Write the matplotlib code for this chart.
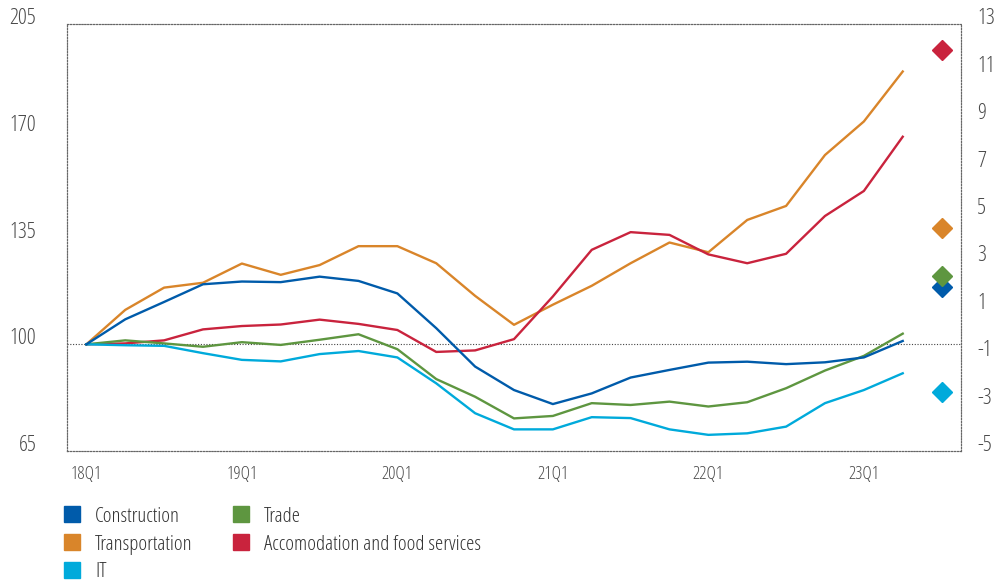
import matplotlib
matplotlib.use("Agg")
import matplotlib.pyplot as plt
from matplotlib.lines import Line2D

plt.rcParams['font.family'] = ['Open Sans', 'DejaVu Sans']
plt.rcParams['font.stretch'] = 'condensed'

quarters = ['18Q1','18Q2','18Q3','18Q4','19Q1','19Q2','19Q3','19Q4','20Q1','20Q2','20Q3','20Q4',
            '21Q1','21Q2','21Q3','21Q4','22Q1','22Q2','22Q3','22Q4','23Q1','23Q2']
construction = [100, 108.2, 113.9, 119.7, 120.6, 120.4, 122.2, 120.8, 116.7, 105.3, 92.7, 85.0,
                80.4, 83.9, 89.1, 91.6, 94.0, 94.3, 93.5, 94.1, 95.7, 101.1]
transportation = [100, 111.3, 118.6, 120.2, 126.5, 122.8, 126.0, 132.2, 132.2, 126.6, 115.9, 106.4,
                  113.0, 119.2, 126.6, 133.4, 130.2, 140.8, 145.4, 162.1, 173.1, 189.5]
it = [100, 99.7, 99.5, 97.1, 94.9, 94.4, 96.8, 97.8, 95.7, 87.2, 77.4, 72.1,
      72.1, 76.1, 75.8, 72.1, 70.3, 70.8, 73.0, 80.7, 85.0, 90.5]
trade = [100, 101.3, 100.3, 99.2, 100.7, 99.8, 101.5, 103.3, 98.4, 88.6, 82.8, 75.7,
         76.5, 80.7, 80.1, 81.2, 79.6, 81.0, 85.6, 91.4, 96.2, 103.5]
accommodation = [100, 100.3, 101.3, 104.9, 106.0, 106.5, 108.1, 106.7, 104.7, 97.5, 98.0, 101.7,
                 115.7, 131.0, 136.8, 135.9, 129.5, 126.6, 129.7, 142.1, 150.3, 168.1]
# right-axis diamonds
diamond_vals = {'Construction': 1.9, 'Transportation': 4.4, 'IT': -2.5,
                'Trade': 2.4, 'Accomodation and food services': 11.9}

names_order = ['Construction', 'Transportation', 'IT', 'Trade', 'Accomodation and food services']
series = {'Construction': construction, 'Transportation': transportation, 'IT': it,
          'Trade': trade, 'Accomodation and food services': accommodation}
colors = {'Construction': '#005BAA', 'Transportation': '#D9852A', 'IT': '#00AADB',
          'Trade': '#5E9640', 'Accomodation and food services': '#C9233D'}

left_ticks = [65, 100, 135, 170, 205]
right_ticks = [-5, -3, -1, 1, 3, 5, 7, 9, 11, 13]
xtick_labels = ['18Q1', '19Q1', '20Q1', '21Q1', '22Q1', '23Q1']

fig = plt.figure(figsize=(9.99, 5.83), dpi=100)
ax = fig.add_axes([0.067, 0.2264, 0.895, 0.732])
ax2 = ax.twinx()

x = list(range(len(quarters)))
draw_order = ['Transportation', 'Accomodation and food services', 'Trade', 'IT', 'Construction']
for n in draw_order:
    ax.plot(x, series[n], color=colors[n], lw=1.7, zorder=3)

ax.axhline(100, color='#444444', lw=0.8, ls=(0, (1, 1.5)), zorder=2)

ax.set_xlim(-0.5, len(quarters) + 0.5)
ax.set_ylim(65, 205)
ax2.set_ylim(-5, 13)
ax.set_yticks(left_ticks)
ax2.set_yticks(right_ticks)
ax2.set_yticklabels([str(v) for v in right_ticks])
xt = [quarters.index(q) for q in xtick_labels]
ax.set_xticks(xt)
ax.set_xticklabels(xtick_labels)

for n in names_order:
    ax2.plot([len(quarters)], [diamond_vals[n]], marker='D', ms=10.5, color=colors[n],
             ls='none', zorder=4)

tc = '#4a4a4a'
ax.tick_params(axis='y', length=0, pad=22, labelsize=16, colors=tc)
ax2.tick_params(axis='y', length=0, pad=11.5, labelsize=16, colors=tc)
ax.tick_params(axis='x', length=0, pad=10, labelsize=13, colors=tc)
for lbl in ax.get_yticklabels() + ax2.get_yticklabels():
    lbl.set_verticalalignment('baseline')

for a in (ax, ax2):
    for s in a.spines.values():
        s.set_linestyle((0, (1, 1.6)))
        s.set_linewidth(0.8)
        s.set_color('#666666')

handles = [Line2D([], [], marker='s', ls='none', ms=11, color=colors[n]) for n in names_order]
leg = fig.legend(handles, names_order, ncol=2, loc='upper left', bbox_to_anchor=(0.062, 0.131),
                 frameon=False, fontsize=15, handlelength=1.0, handletextpad=0.6,
                 columnspacing=1.8, labelspacing=0.38, borderaxespad=0, borderpad=0)
for t in leg.get_texts():
    t.set_color('#333333')

fig.savefig('out.png', dpi=100)
